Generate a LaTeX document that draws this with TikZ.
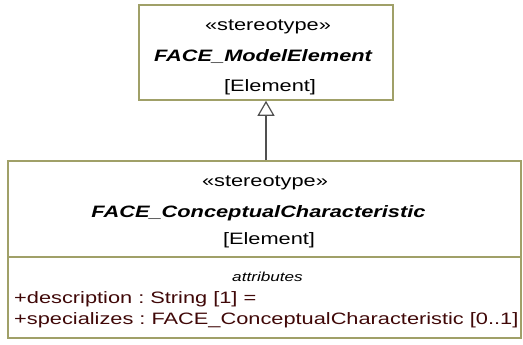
\documentclass[tikz,border=0pt]{standalone}
\usepackage{fontspec}
\usepackage{xcolor}
\usepackage{tikz}
\usetikzlibrary{arrows.meta}
\usetikzlibrary{positioning, calc}
\newfontfamily\umlfont{Liberation Sans}[FakeStretch=1.32]
\definecolor{umlborder}{RGB}{160,160,104}
\definecolor{umlattr}{RGB}{64,8,8}
\definecolor{umlarrow}{RGB}{80,80,80}
\frenchspacing
\tikzset{
  umlbox/.style={draw=umlborder, line width=1.6pt, fill=white, rectangle, inner sep=0pt},
  umltext/.style={font=\umlfont\fontsize{16.5}{19}\selectfont, inner sep=0pt},
  umlattrib/.style={umltext, text=umlattr, anchor=west},
  genarrow/.style={draw=umlarrow, line width=1.5pt, -{Triangle[open, length=15pt, width=17pt, line width=1.2pt]}}
}
\begin{document}
\begin{tikzpicture}[x=1pt, y=1pt]
            \useasboundingbox (0,0) rectangle (523,345);

            % Boxes
            \node[umlbox, minimum width=254, minimum height=95] (model) at (266,292.5) {};
            \node[umlbox, minimum width=513, minimum height=177] (concept) at (264.5,95.5) {};
            \path (concept.north west) ++(0,-97) coordinate (divl);
            \draw[draw=umlborder, line width=1.6pt] (divl) -- (divl -| concept.east);

            % Texte du haut
            \node[umltext] (modelst) at (268,318) {«stereotype»};
            \node[umltext, font=\umlfont\fontsize{16.5}{19}\selectfont\bfseries\itshape] (modelname) at (263,288) {FACE\_ModelElement};
            \node[umltext] (modelkind) at (270,258) {[Element]};

            % Texte du bas
            \node[umltext] (conceptst) at (265,162) {«stereotype»};
            \node[umltext, font=\umlfont\fontsize{16.5}{19}\selectfont\bfseries\itshape] (conceptname) at (258.5,132) {FACE\_ConceptualCharacteristic};
            \node[umltext] (conceptkind) at (269,105) {[Element]};
            \node[umltext, font=\umlfont\fontsize{13}{15}\selectfont\itshape] (attrtitle) at (267.5,68) {attributes};
            \node[umlattrib] (attrdesc) at (14,46) {+description : String [1] =};
            \node[umlattrib] (attrspec) at (14,25) {+specializes : FACE\_ConceptualCharacteristic [0..1]};

            % Generalisation
            \draw[genarrow] (concept.north -| model.south) -- (model.south);
        \end{tikzpicture}
\end{document}
